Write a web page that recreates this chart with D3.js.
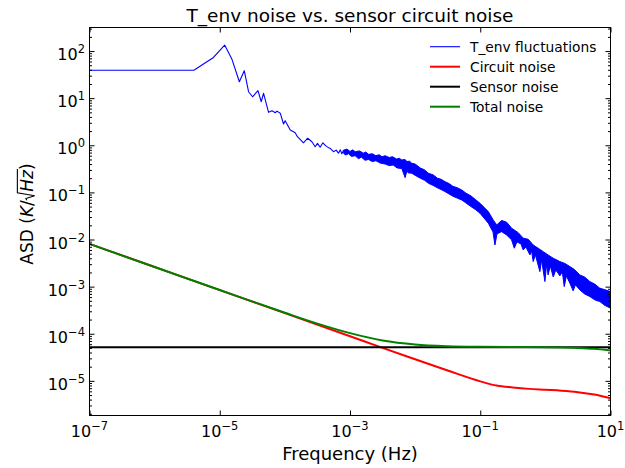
<!DOCTYPE html>
<html><head><meta charset="utf-8">
<script src="https://cdn.jsdelivr.net/npm/d3@7"></script>
<style>body{margin:0;background:#fff;} svg{display:block;font-family:"DejaVu Sans",sans-serif;}</style>
</head><body><svg id="c" width="625" height="468"></svg>
<script>
// ---- data ----
const envFreq=[1e-7,4.0e-6,7.8e-6,1.19e-5,1.54e-5,2.0e-5,2.38e-5,2.77e-5,3.19e-5,3.86e-5,4.34e-5,4.71e-5,5.62e-5,6.34e-5,7.12e-5,7.56e-5,8.49e-5,9.54e-5,1.01e-4,1.21e-4,1.44e-4,1.56e-4,1.93e-4,2.24e-4,2.60e-4,2.92e-4,3.17e-4,3.48e-4,3.83e-4,4.26e-4,4.67e-4,4.96e-4,5.57e-4,6.13e-4,6.65e-4,7.1e-4,7.5e-4,7.85e-4];
const envASD=[39,39,71,134,66.7,22.3,38.2,13.7,10.7,14.4,8.4,12.7,5.0,5.4,4.9,5.3,4.8,2.83,3.33,2.11,1.85,1.52,1.13,1.41,1.19,0.93,1.10,0.91,1.13,0.97,0.89,0.86,0.73,0.79,0.68,0.80,0.66,0.74];
// dense high-frequency part of T_env: upper / lower edge of the band
const bandUpperFreq=[7.85e-4,9.0e-4,1.0e-3,1.1e-3,1.2e-3,1.4e-3,1.6e-3,1.75e-3,1.92e-3,2.2e-3,2.5e-3,2.8e-3,3.1e-3,3.46e-3,4.0e-3,4.5e-3,5.2e-3,5.7e-3,6.24e-3,7.0e-3,7.5e-3,8.2e-3,8.89e-3,1.0e-2,1.2e-2,1.4e-2,1.6e-2,1.9e-2,2.2e-2,2.5e-2,2.88e-2,3.3e-2,3.8e-2,4.4e-2,5.19e-2,6.0e-2,7.21e-2,8.5e-2,9.91e-2,0.133,0.158,0.179,0.213,0.254,0.303,0.383,0.457,0.546,0.650,0.776,0.927,1.10,1.32,1.67,2.0,2.38,2.8,3.38,4.0,4.82,5.8,6.85,8.2,10];
const bandUpperASD=[0.78,0.83,0.74,0.80,0.73,0.76,0.68,0.72,0.644,0.66,0.60,0.63,0.57,0.60,0.55,0.57,0.51,0.53,0.488,0.50,0.45,0.46,0.415,0.40,0.33,0.30,0.255,0.235,0.20,0.19,0.169,0.155,0.135,0.126,0.113,0.097,0.0841,0.070,0.0589,0.0391,0.0261,0.0204,0.0254,0.0233,0.0174,0.0140,0.0107,0.0101,7.67e-3,6.53e-3,5.53e-3,4.71e-3,4.01e-3,3.40e-3,3.1e-3,2.66e-3,2.3e-3,1.77e-3,1.6e-3,1.28e-3,1.12e-3,9.27e-4,8.6e-4,7.85e-4];
const bandLowerFreq=[7.85e-4,8.5e-4,9.5e-4,1.05e-3,1.2e-3,1.35e-3,1.5e-3,1.7e-3,1.92e-3,2.2e-3,2.5e-3,2.9e-3,3.46e-3,4.0e-3,4.6e-3,5.3e-3,6.24e-3,7.02e-3,7.5e-3,7.8e-3,8.89e-3,1.0e-2,1.2e-2,1.4e-2,1.6e-2,1.9e-2,2.2e-2,2.5e-2,2.88e-2,3.3e-2,3.8e-2,4.4e-2,5.19e-2,6.0e-2,7.21e-2,8.5e-2,9.91e-2,0.133,0.157,0.168,0.181,0.213,0.254,0.303,0.333,0.366,0.422,0.457,0.502,0.579,0.615,0.650,0.703,0.824,0.875,0.984,1.045,1.10,1.19,1.32,1.45,1.67,1.82,1.95,2.10,2.38,2.67,2.89,3.38,4.0,4.82,5.8,6.85,8.2,10];
const bandLowerASD=[0.70,0.62,0.66,0.58,0.60,0.52,0.56,0.48,0.50,0.45,0.47,0.42,0.40,0.37,0.38,0.33,0.32,0.206,0.29,0.26,0.255,0.23,0.20,0.18,0.156,0.14,0.125,0.115,0.104,0.093,0.083,0.076,0.0692,0.060,0.0499,0.043,0.0361,0.0222,0.0145,7.67e-3,0.0132,0.0147,0.0125,9.82e-3,6.53e-3,8.89e-3,8.07e-3,6.01e-3,6.97e-3,4.71e-3,5.73e-3,3.40e-3,4.71e-3,2.08e-3,3.69e-3,1.28e-3,3.03e-3,1.77e-3,2.75e-3,1.61e-3,2.26e-3,1.69e-3,2.06e-3,1.00e-3,1.69e-3,1.18e-3,8.13e-4,1.09e-3,8.53e-4,7.0e-4,6.15e-4,5.2e-4,4.82e-4,4.0e-4,3.49e-4];
const circuitFreq=[1e-7,1e-6,1e-5,1e-4,1e-3,3.16e-3,1e-2,3.16e-2,0.1,0.178,0.316,0.562,1,1.78,3.16,5.62,10];
const circuitASD=[8.07e-3,2.61e-3,8.45e-4,2.74e-4,8.85e-5,5.01e-5,2.88e-5,1.66e-5,9.77e-6,7.94e-6,7.24e-6,6.76e-6,6.46e-6,6.17e-6,5.75e-6,5.13e-6,4.27e-6];
const sensorFreq=[1e-7,10];
const sensorASD=[5.19e-5,5.19e-5];
const totalFreq=[1e-7,1e-6,1e-5,1e-4,3.16e-4,1e-3,3.16e-3,1e-2,3.16e-2,0.1,0.316,1,3.16,5.62,10];
const totalASD=[8.07e-3,2.61e-3,8.47e-4,2.79e-4,1.64e-4,1.03e-4,7.21e-5,5.93e-5,5.45e-5,5.28e-5,5.22e-5,5.19e-5,5.01e-5,4.79e-5,4.42e-5];
const xDomain=[1e-7,10];
const yDomain=[1.84e-6,316];
const xTicks=[1e-7,1e-5,1e-3,1e-1,1e1];
const xTickExp=["\u22127","\u22125","\u22123","\u22121","1"];
const yTicks=[1e-5,1e-4,1e-3,1e-2,1e-1,1,10,100];
const yTickExp=["\u22125","\u22124","\u22123","\u22122","\u22121","0","1","2"];
const seriesNames=["T_env fluctuations","Circuit noise","Sensor noise","Total noise"];
const seriesColors=["#0000ff","#ff0000","#000000","#008000"];
const titleText="T_env noise vs. sensor circuit noise";
const xLabelText="Frequency (Hz)";

// ---- layout ----
const L=89.5,R=610.5,T=27.5,B=415.5;
const svg=d3.select("#c");
const x=d3.scaleLog().domain(xDomain).range([L,R]);
const y=d3.scaleLog().domain(yDomain).range([B,T]);

svg.append("defs").append("clipPath").attr("id","clip")
  .append("rect").attr("x",L).attr("y",T).attr("width",R-L).attr("height",B-T);
const plot=svg.append("g").attr("clip-path","url(#clip)");

const zip=(f,v)=>f.map((d,i)=>[d,v[i]]);
const lineLin=d3.line().x(d=>x(d[0])).y(d=>y(d[1]));
const lineSmooth=d3.line().x(d=>x(d[0])).y(d=>y(d[1])).curve(d3.curveMonotoneX);

// T_env
plot.append("path").attr("d",lineLin(zip(envFreq,envASD)))
  .attr("fill","none").attr("stroke",seriesColors[0]).attr("stroke-width",1.1).attr("stroke-linejoin","round");
const band=zip(bandUpperFreq,bandUpperASD).concat(zip(bandLowerFreq,bandLowerASD).reverse());
plot.append("path").attr("d",lineLin(band)+"Z")
  .attr("fill",seriesColors[0]).attr("stroke",seriesColors[0]).attr("stroke-width",1).attr("stroke-linejoin","round");
// circuit, sensor, total
plot.append("path").attr("d",lineSmooth(zip(circuitFreq,circuitASD)))
  .attr("fill","none").attr("stroke",seriesColors[1]).attr("stroke-width",2);
plot.append("path").attr("d",lineLin(zip(sensorFreq,sensorASD)))
  .attr("fill","none").attr("stroke",seriesColors[2]).attr("stroke-width",2);
plot.append("path").attr("d",lineSmooth(zip(totalFreq,totalASD)))
  .attr("fill","none").attr("stroke",seriesColors[3]).attr("stroke-width",2);

// ---- axes (inward ticks on all sides) ----
const yMinor=[];
for(let k=-6;k<=2;k++){for(let m=2;m<=9;m++){const v=m*Math.pow(10,k);if(v>=yDomain[0]&&v<=yDomain[1])yMinor.push(v);}}
function styleAxis(g){g.select(".domain").remove();g.selectAll("line").attr("stroke","#000").attr("stroke-width",1);}
svg.append("g").attr("transform",`translate(0,${B})`).call(d3.axisBottom(x).tickValues(xTicks).tickSizeInner(-5).tickSizeOuter(0).tickFormat("")).call(styleAxis);
svg.append("g").attr("transform",`translate(0,${T})`).call(d3.axisTop(x).tickValues(xTicks).tickSizeInner(-5).tickSizeOuter(0).tickFormat("")).call(styleAxis);
svg.append("g").attr("transform",`translate(${L},0)`).call(d3.axisLeft(y).tickValues(yTicks).tickSizeInner(-5).tickSizeOuter(0).tickFormat("")).call(styleAxis);
svg.append("g").attr("transform",`translate(${R},0)`).call(d3.axisRight(y).tickValues(yTicks).tickSizeInner(-5).tickSizeOuter(0).tickFormat("")).call(styleAxis);
svg.append("g").attr("transform",`translate(${L},0)`).call(d3.axisLeft(y).tickValues(yMinor).tickSizeInner(-2.5).tickSizeOuter(0).tickFormat("")).call(styleAxis);
svg.append("g").attr("transform",`translate(${R},0)`).call(d3.axisRight(y).tickValues(yMinor).tickSizeInner(-2.5).tickSizeOuter(0).tickFormat("")).call(styleAxis);
svg.append("rect").attr("x",L).attr("y",T).attr("width",R-L).attr("height",B-T).attr("fill","none").attr("stroke","#000").attr("stroke-width",1);

// tick labels
const tfs=16, sfs=11.5;
xTicks.forEach((v,i)=>{
  const t=svg.append("text").attr("x",x(v)).attr("y",437).attr("text-anchor","middle").attr("font-size",tfs).attr("fill","#000");
  t.append("tspan").text("10");
  t.append("tspan").attr("dy",-7).attr("font-size",sfs).text(xTickExp[i]);
});
yTicks.forEach((v,i)=>{
  const t=svg.append("text").attr("x",85).attr("y",y(v)+9).attr("text-anchor","end").attr("font-size",tfs).attr("fill","#000");
  t.append("tspan").text("10");
  t.append("tspan").attr("dy",-7).attr("font-size",sfs).text(yTickExp[i]);
});

// title & labels
svg.append("text").attr("x",(L+R)/2).attr("y",22).attr("text-anchor","middle").attr("font-size",18.5).text(titleText);
svg.append("text").attr("x",(L+R)/2).attr("y",460).attr("text-anchor","middle").attr("font-size",18).text(xLabelText);

const yl=svg.append("g").attr("transform","translate(33,214) rotate(-90)");
const inner=yl.append("g");
const fs=17; let cx=0;
function piece(txt,italic){const t=inner.append("text").attr("x",cx).attr("y",0).attr("font-size",fs).text(txt);if(italic)t.attr("font-style","italic");cx+=t.node().getComputedTextLength();return t;}
piece("ASD (");piece("K",true);piece("/");
const rx=cx; cx+=fs*0.5;
piece("Hz",true); const hzEnd=cx+1;
piece(")");
inner.append("path").attr("d",`M${rx},${-fs*0.36} L${rx+fs*0.1},${-fs*0.42} L${rx+fs*0.26},${fs*0.1} L${rx+fs*0.44},${-fs*0.92} L${hzEnd},${-fs*0.92}`)
  .attr("fill","none").attr("stroke","#000").attr("stroke-width",1.1);
inner.attr("transform",`translate(${-cx/2},0)`);

// legend
const lg=svg.append("g");
seriesNames.forEach((n,i)=>{
  const yy=46.7+20*i;
  lg.append("line").attr("x1",430).attr("x2",460).attr("y1",yy).attr("y2",yy).attr("stroke",seriesColors[i]).attr("stroke-width",i===0?1.1:2);
  lg.append("text").attr("x",470).attr("y",yy+5).attr("font-size",13.8).text(n);
});
</script></body></html>
